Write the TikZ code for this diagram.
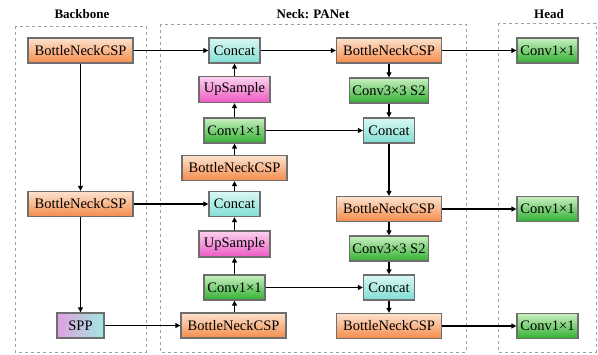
\documentclass[tikz,border=0pt]{standalone}
\usepackage{fontspec}
\setmainfont{Liberation Serif}
\usetikzlibrary{arrows.meta}
\definecolor{bordc}{HTML}{6E6E6E}
\definecolor{dashc}{HTML}{A0A0A0}
\tikzset{
  blk/.style={draw=bordc, line width=1.3pt, inner sep=0pt, minimum height=25pt, font=\fontsize{14.5}{16}\selectfont},
  bncsp/.style={blk, minimum width=105pt, top color={rgb,255:red,253;green,226;blue,206}, bottom color={rgb,255:red,245;green,140;blue,75}},
  concat/.style={blk, minimum width=51pt, top color={rgb,255:red,218;green,248;blue,244}, bottom color={rgb,255:red,128;green,222;blue,212}},
  upsmp/.style={blk, minimum width=71pt, minimum height=26pt, top color={rgb,255:red,251;green,210;blue,238}, bottom color={rgb,255:red,238;green,90;blue,196}},
  convone/.style={blk, minimum width=61pt, top color={rgb,255:red,200;green,240;blue,192}, bottom color={rgb,255:red,50;green,176;blue,50}},
  convthree/.style={blk, minimum width=79pt, top color={rgb,255:red,200;green,240;blue,192}, bottom color={rgb,255:red,50;green,176;blue,50}},
  sppbox/.style={blk, minimum width=47pt, left color={rgb,255:red,224;green,160;blue,224}, right color={rgb,255:red,160;green,232;blue,224}},
  conn/.style={draw=black, line width=1.3pt, -{Triangle[length=5pt,width=5pt]}},
  region/.style={draw=dashc, dashed, line width=0.9pt},
  ttl/.style={font=\bfseries\fontsize{13}{15}\selectfont}
}
\begin{document}
\begin{tikzpicture}[x=1pt,y=-1pt]
\useasboundingbox (0,0) rectangle (598,354);
% regions
\draw[region] (15,26) rectangle (146,352);
\draw[region] (160,24) rectangle (466,352);
\draw[region] (498,23) rectangle (596,352);
\node[ttl] (tb) at (82,14) {Backbone};
\node[ttl] (tn) at (313,14) {Neck: PANet};
\node[ttl] (th) at (549,14) {Head};
% backbone
\node[bncsp] (bb1) at (80.5,50.5) {BottleNeckCSP};
\node[bncsp] (bb2) at (80.5,204) {BottleNeckCSP};
\node[sppbox] (spp) at (80.5,325.5) {SPP};
% neck left
\node[concat] (cat1) at (234.5,50.5) {Concat};
\node[upsmp] (up1) at (234.5,89.5) {UpSample};
\node[convone] (cv1) at (234.5,130.5) {Conv1×1};
\node[bncsp] (nb1) at (234.5,168) {BottleNeckCSP};
\node[concat] (cat2) at (234.5,204) {Concat};
\node[upsmp] (up2) at (234.5,244) {UpSample};
\node[convone] (cv2) at (234.5,287.5) {Conv1×1};
\node[bncsp] (nb0) at (233.5,325.5) {BottleNeckCSP};
% neck right
\node[bncsp] (rb1) at (389,50.5) {BottleNeckCSP};
\node[convthree] (c3a) at (389,90.5) {Conv3×3 S2};
\node[concat] (rc1) at (389,130.5) {Concat};
\node[bncsp] (rb2) at (389,209) {BottleNeckCSP};
\node[convthree] (c3b) at (389,248.5) {Conv3×3 S2};
\node[concat] (rc2) at (389,287.5) {Concat};
\node[bncsp] (rb3) at (389,326) {BottleNeckCSP};
% head
\node[convone] (h1) at (547.5,50.5) {Conv1×1};
\node[convone] (h2) at (547.5,209) {Conv1×1};
\node[convone] (h3) at (547.5,326) {Conv1×1};
% connectors
\draw[conn] (bb1) -- (bb2);
\draw[conn] (bb2) -- (spp);
\draw[conn] (bb1) -- (cat1);
\draw[conn] (bb2) -- (cat2);
\draw[conn] (spp) -- (nb0.west |- spp);
\draw[conn] (nb0.north -| cv2) -- (cv2);
\draw[conn] (cv2) -- (up2);
\draw[conn] (up2) -- (cat2);
\draw[conn] (cat2) -- (nb1);
\draw[conn] (nb1) -- (cv1);
\draw[conn] (cv1) -- (up1);
\draw[conn] (up1) -- (cat1);
\draw[conn] (cat1) -- (rb1);
\draw[conn] (rb1) -- (c3a);
\draw[conn] (c3a) -- (rc1);
\draw[conn] (cv1) -- (rc1);
\draw[conn] (rc1) -- (rb2);
\draw[conn] (rb2) -- (c3b);
\draw[conn] (c3b) -- (rc2);
\draw[conn] (cv2) -- (rc2);
\draw[conn] (rc2) -- (rb3);
\draw[conn] (rb1) -- (h1);
\draw[conn] (rb2) -- (h2);
\draw[conn] (rb3) -- (h3);
\end{tikzpicture}
\end{document}
